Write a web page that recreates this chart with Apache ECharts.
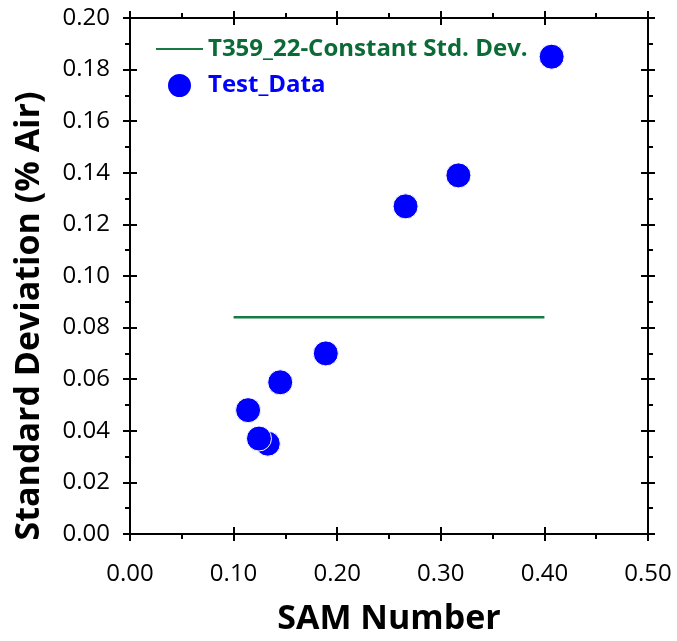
<!DOCTYPE html>
<html>
<head>
<meta charset="utf-8">
<script src="https://cdn.jsdelivr.net/npm/echarts@6/dist/echarts.min.js"></script>
<style>html,body{margin:0;padding:0;background:#fff}#c{width:677px;height:641px}</style>
</head>
<body>
<div id="c"></div>
<script>
var xTicks = [0.0, 0.1, 0.2, 0.3, 0.4, 0.5];
var yTicks = [0.00, 0.02, 0.04, 0.06, 0.08, 0.10, 0.12, 0.14, 0.16, 0.18, 0.20];
var testSam = [0.407, 0.266, 0.317, 0.189, 0.145, 0.114, 0.133, 0.1245];
var testStd = [0.185, 0.127, 0.139, 0.070, 0.0588, 0.048, 0.035, 0.037];
var constSam = [0.10, 0.40];
var constStd = [0.084, 0.084];

var FONT = '"Open Sans", "Noto Sans", sans-serif';
var chart = echarts.init(document.getElementById('c'));

function mkX(pos, inside, main) {
  return {
    type: 'value', position: pos, min: 0, max: 0.5, interval: 0.1,
    gridIndex: 0,
    axisLine: {show: main, onZero: false, lineStyle: {color: '#000', width: 2}},
    axisTick: {show: true, inside: inside, length: 7, lineStyle: {color: '#000', width: 2}},
    minorTick: {show: !inside, splitNumber: 2, length: 5, lineStyle: {color: '#000', width: 2}},
    splitLine: {show: false},
    axisLabel: {show: main && pos === 'bottom', color: '#000', fontSize: 24, fontFamily: FONT, margin: 28,
      formatter: function (v) { return v.toFixed(2); }},
    name: (main && pos === 'bottom') ? 'SAM Number' : '',
    nameLocation: 'middle', nameGap: 68,
    nameTextStyle: {color: '#000', fontSize: 34, fontWeight: 'bold', fontFamily: FONT}
  };
}
function mkY(pos, inside, main) {
  return {
    type: 'value', position: pos, min: 0, max: 0.2, interval: 0.02,
    gridIndex: 0,
    axisLine: {show: main, onZero: false, lineStyle: {color: '#000', width: 2}},
    axisTick: {show: true, inside: inside, length: 7, lineStyle: {color: '#000', width: 2}},
    minorTick: {show: !inside, splitNumber: 2, length: 5, lineStyle: {color: '#000', width: 2}},
    splitLine: {show: false},
    axisLabel: {show: main && pos === 'left', color: '#000', fontSize: 24, fontFamily: FONT, margin: 20,
      formatter: function (v) { return v.toFixed(2); }},
    name: (main && pos === 'left') ? 'Standard Deviation (% Air)' : '',
    nameLocation: 'middle', nameGap: 84,
    nameTextStyle: {color: '#000', fontSize: 34, fontWeight: 'bold', fontFamily: FONT, padding: [0, 80, 0, 0]}
  };
}

chart.setOption({
  backgroundColor: '#fff',
  animation: false,
  grid: {left: 130, right: 29, top: 18, bottom: 103},
  xAxis: [mkX('bottom', false, true), mkX('bottom', true, false), mkX('top', false, true), mkX('top', true, false)],
  yAxis: [mkY('left', false, true), mkY('left', true, false), mkY('right', false, true), mkY('right', true, false)],
  legend: {
    orient: 'vertical', left: 150, top: 31, itemWidth: 47, itemHeight: 25, itemGap: 10,
    textStyle: {fontSize: 24, fontWeight: 'bold', fontFamily: FONT, lineHeight: 26},
    data: [
      {name: 'T359_22-Constant Std. Dev.', itemStyle: {opacity: 0}, textStyle: {color: '#0b6b36'}},
      {name: 'Test_Data', icon: 'circle', textStyle: {color: '#0000ff'}}
    ]
  },
  series: [
    {
      name: 'T359_22-Constant Std. Dev.', type: 'line', symbol: 'none',
      xAxisIndex: 0, yAxisIndex: 0,
      lineStyle: {color: '#167a42', width: 2.5}, itemStyle: {color: '#167a42'},
      data: constSam.map(function (x, i) { return [x, constStd[i]]; })
    },
    {
      name: 'Test_Data', type: 'scatter', symbol: 'circle', symbolSize: 25,
      xAxisIndex: 0, yAxisIndex: 0,
      itemStyle: {color: '#0000ff', borderColor: '#fff', borderWidth: 1, opacity: 1},
      data: testSam.map(function (x, i) { return [x, testStd[i]]; })
    }
  ]
});
</script>
</body>
</html>
